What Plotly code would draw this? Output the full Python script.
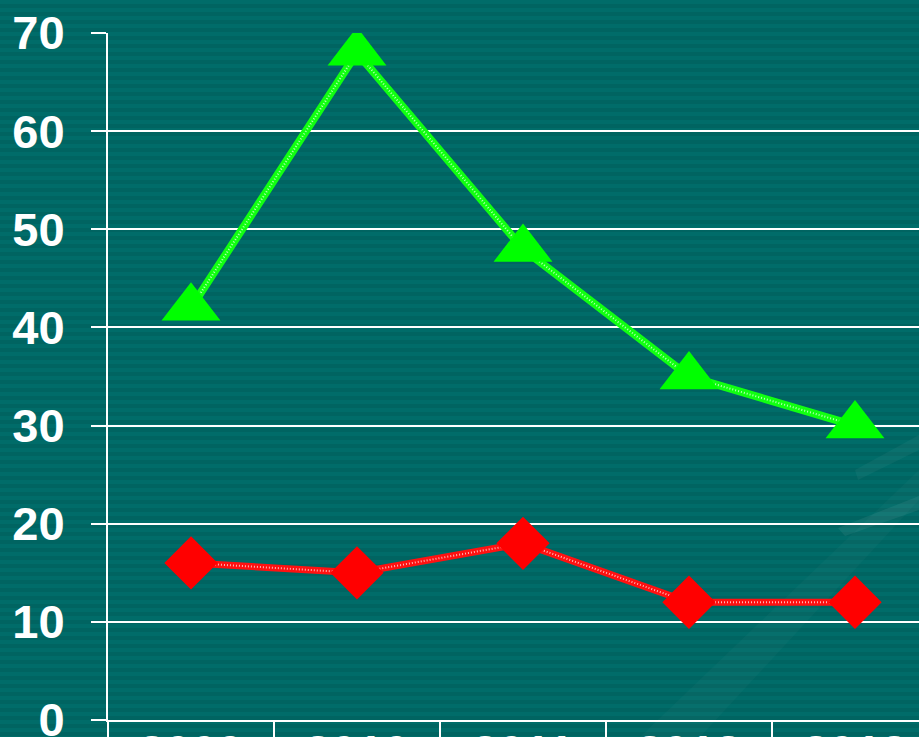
import plotly.graph_objects as go

# ---- data ----
years = ["2009", "2010", "2011", "2012", "2013"]
green_vals = [42, 68, 48, 35, 30]
red_vals = [16, 15, 18, 12, 12]
y_ticks = [0, 10, 20, 30, 40, 50, 60, 70]

W, H = 919, 737
ML, MT, MB, MR = 108, 33, 17, 0
PW, PH = W - ML - MR, H - MT - MB


def px(xp):
    return (xp - ML) / PW


def py(yp):
    return (H - MB - yp) / PH


fig = go.Figure()

# green series: line, dotted overlay, markers
fig.add_trace(go.Scatter(x=years, y=green_vals, mode="lines",
                         line=dict(color="#11ff11", width=8), hoverinfo="skip"))
fig.add_trace(go.Scatter(x=years, y=green_vals, mode="lines",
                         line=dict(color="rgba(255,255,255,0.7)", width=2, dash="1px,2px"),
                         hoverinfo="skip"))
fig.add_trace(go.Scatter(x=years, y=green_vals, mode="markers",
                         marker=dict(symbol="triangle-up", size=51, color="#00ff00",
                                     line=dict(width=0))))

# red series
fig.add_trace(go.Scatter(x=years, y=red_vals, mode="lines",
                         line=dict(color="#ff1111", width=7), hoverinfo="skip"))
fig.add_trace(go.Scatter(x=years, y=red_vals, mode="lines",
                         line=dict(color="rgba(255,255,255,0.7)", width=2, dash="1px,2px"),
                         hoverinfo="skip"))
fig.add_trace(go.Scatter(x=years, y=red_vals, mode="markers",
                         marker=dict(symbol="diamond", size=41, color="#ff0000",
                                     line=dict(width=0))))

# background stripes
shapes = []
for k in range(0, H, 8):
    shapes.append(dict(type="rect", xref="paper", yref="paper", layer="below",
                       x0=px(0), x1=px(W), y0=py(k), y1=py(k + 4),
                       fillcolor="#006c69", line=dict(width=0)))


def path(points):
    return "M " + " L ".join(f"{px(a):.4f},{py(b):.4f}" for a, b in points) + " Z"


# faint swoosh decorations (lower right)
shapes.append(dict(type="path", xref="paper", yref="paper", layer="below",
                   path=path([(640, 737), (919, 470), (919, 500), (700, 737)]),
                   fillcolor="rgba(255,255,255,0.025)", line=dict(width=0)))
shapes.append(dict(type="path", xref="paper", yref="paper", layer="below",
                   path=path([(838, 528), (919, 496), (919, 510), (845, 536)]),
                   fillcolor="rgba(255,255,255,0.06)", line=dict(width=0)))
shapes.append(dict(type="path", xref="paper", yref="paper", layer="below",
                   path=path([(855, 470), (919, 435), (919, 450), (858, 480)]),
                   fillcolor="rgba(255,255,255,0.04)", line=dict(width=0)))

fig.update_layout(
    width=W, height=H,
    margin=dict(l=ML, r=MR, t=MT, b=MB, pad=0),
    paper_bgcolor="#006461",
    plot_bgcolor="rgba(0,0,0,0)",
    showlegend=False,
    shapes=shapes,
    template="none",
)

fig.update_yaxes(
    range=[0, 70], tickvals=y_ticks, ticks="outside", ticklen=15, tickwidth=2,
    tickcolor="white", showline=True, linewidth=2, linecolor="white",
    showgrid=True, gridcolor="white", gridwidth=2, zeroline=False,
    tickfont=dict(family="Liberation Sans", size=47, color="white", weight="bold"),
    ticklabelstandoff=17, ticklabeloverflow="allow", automargin=False, fixedrange=True,
)

fig.update_xaxes(
    type="category", categoryorder="array", categoryarray=years,
    range=[-0.5, -0.5 + PW / 166.0], tickson="boundaries",
    ticks="outside", ticklen=17, tickwidth=2, tickcolor="white",
    showline=True, linewidth=2, linecolor="white", showgrid=False, zeroline=False,
    tickfont=dict(family="Liberation Sans", size=47, color="white", weight="bold"),
    ticklabelstandoff=-10, ticklabeloverflow="allow", automargin=False, fixedrange=True,
)

fig.write_html(
    "out.html",
    config={"displayModeBar": False},
    post_script="document.body.style.margin='0';document.body.style.overflow='hidden';",
)
